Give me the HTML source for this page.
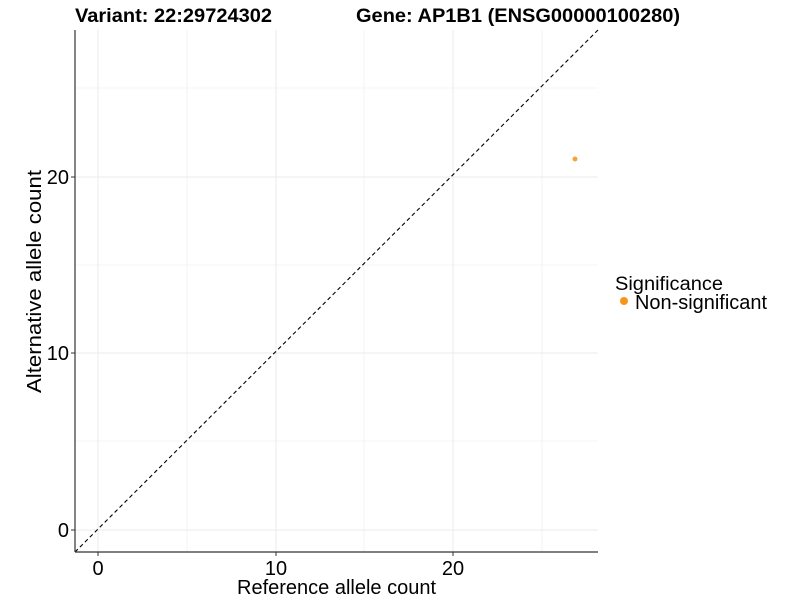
<!DOCTYPE html>
<html><head><style>body{margin:0;background:#fff}svg{display:block}</style></head><body>
<svg width="800" height="600" xmlns="http://www.w3.org/2000/svg" font-family="Liberation Sans, sans-serif">
<g stroke="#ebebeb" stroke-width="1">
<line x1="187" y1="30" x2="187" y2="552" stroke-width="0.6"/><line x1="364" y1="30" x2="364" y2="552" stroke-width="0.6"/><line x1="542" y1="30" x2="542" y2="552" stroke-width="0.6"/>
<line x1="75" y1="441" x2="598" y2="441" stroke-width="0.6"/><line x1="75" y1="265" x2="598" y2="265" stroke-width="0.6"/><line x1="75" y1="88" x2="598" y2="88" stroke-width="0.6"/>
<line x1="98" y1="30" x2="98" y2="552"/><line x1="276" y1="30" x2="276" y2="552"/><line x1="453" y1="30" x2="453" y2="552"/>
<line x1="75" y1="530" x2="598" y2="530"/><line x1="75" y1="353" x2="598" y2="353"/><line x1="75" y1="177" x2="598" y2="177"/>
</g>
<line x1="75" y1="552" x2="598" y2="30" stroke="#000" stroke-dasharray="4,3" stroke-width="1.1"/>
<circle cx="575" cy="159" r="2.5" fill="#f7a23c"/>
<line x1="75" y1="30" x2="75" y2="552" stroke="#333" stroke-width="1.2"/>
<line x1="75" y1="552" x2="598" y2="552" stroke="#333" stroke-width="1.2"/>
<g stroke="#333"><line x1="71" y1="530" x2="75" y2="530"/><line x1="71" y1="353" x2="75" y2="353"/><line x1="71" y1="177" x2="75" y2="177"/>
<line x1="98" y1="552" x2="98" y2="556"/><line x1="276" y1="552" x2="276" y2="556"/><line x1="453" y1="552" x2="453" y2="556"/></g>
<g font-size="20" fill="#000" text-anchor="end"><text x="69" y="537">0</text><text x="69" y="360">10</text><text x="69" y="184">20</text></g>
<g font-size="20" fill="#000" text-anchor="middle"><text x="98" y="575">0</text><text x="276" y="575">10</text><text x="453" y="575">20</text></g>
<text x="237" y="594" font-size="20" textLength="199" lengthAdjust="spacingAndGlyphs">Reference allele count</text>
<text transform="translate(41,393) rotate(-90)" font-size="20" textLength="223" lengthAdjust="spacingAndGlyphs">Alternative allele count</text>
<text x="75" y="22" font-size="19" font-weight="bold" textLength="197" lengthAdjust="spacingAndGlyphs">Variant: 22:29724302</text>
<text x="356" y="22" font-size="19" font-weight="bold" textLength="324" lengthAdjust="spacingAndGlyphs">Gene: AP1B1 (ENSG00000100280)</text>
<text x="615" y="290" font-size="19" textLength="108" lengthAdjust="spacingAndGlyphs">Significance</text>
<circle cx="624" cy="301" r="4" fill="#f7941d"/>
<text x="635" y="309" font-size="20" textLength="132" lengthAdjust="spacingAndGlyphs">Non-significant</text>
</svg>
</body></html>
